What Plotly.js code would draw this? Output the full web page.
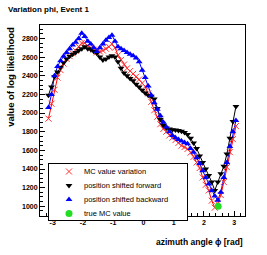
<!DOCTYPE html>
<html>
<head>
<meta charset="utf-8">
<script src="https://cdn.plot.ly/plotly-3.0.1.min.js"></script>
<style>html,body{margin:0;padding:0;background:#fff;}#chart{width:267px;height:255px;}</style>
</head>
<body>
<div id="chart"></div>
<script>
var phi = [-3.14,-3.04,-2.94,-2.84,-2.74,-2.64,-2.54,-2.44,-2.34,-2.24,-2.14,-2.04,-1.94,-1.84,-1.74,-1.64,-1.54,-1.44,-1.34,-1.24,-1.14,-1.04,-0.94,-0.84,-0.74,-0.64,-0.54,-0.44,-0.34,-0.24,-0.14,-0.04,0.06,0.16,0.26,0.36,0.46,0.56,0.66,0.76,0.86,0.96,1.06,1.16,1.26,1.36,1.46,1.56,1.66,1.76,1.86,1.96,2.06,2.16,2.26,2.36,2.46,2.56,2.66,2.76,2.86,2.96,3.06];

var mcVariation = [1940,2100,2250,2380,2460,2530,2580,2610,2640,2670,2710,2750,2750,2720,2700,2680,2650,2660,2670,2690,2710,2740,2700,2620,2570,2520,2480,2450,2420,2390,2360,2320,2285,2210,2120,2030,1960,1880,1830,1800,1760,1735,1710,1680,1650,1635,1615,1575,1530,1470,1410,1310,1230,1170,1060,985,1030,1120,1260,1420,1580,1720,1860];

var shiftedForward = [2190,2280,2390,2440,2490,2540,2580,2610,2630,2650,2670,2690,2710,2690,2680,2660,2640,2600,2570,2580,2600,2615,2600,2550,2480,2430,2400,2370,2345,2310,2280,2245,2215,2190,2180,2150,2050,1930,1870,1840,1830,1822,1818,1812,1805,1790,1770,1730,1680,1620,1540,1470,1400,1330,1260,1170,1260,1350,1430,1560,1730,1910,2070];

var shiftedBackward = [2060,2200,2400,2500,2560,2610,2650,2690,2730,2760,2800,2855,2820,2770,2740,2700,2660,2700,2740,2780,2810,2835,2770,2710,2690,2670,2650,2630,2615,2590,2550,2460,2380,2290,2190,2110,2040,1970,1900,1850,1800,1760,1735,1715,1700,1685,1670,1620,1580,1520,1460,1380,1310,1240,1170,1110,1065,1150,1310,1470,1640,1800,1920];

var truePhi = [2.47];
var trueValue = [1000];

var seriesNames = ["MC value variation","position shifted forward","position shifted backward","true MC value"];
var yTicks = [1000,1200,1400,1600,1800,2000,2200,2400,2600,2800];
var xTicks = [-3,-2,-1,0,1,2,3];

var F = "Liberation Sans, Arial, Helvetica, sans-serif";

var traces = [
  {x: phi, y: shiftedForward, mode: "lines", line: {color: "#000000", width: 1}, showlegend: false, hoverinfo: "skip"},
  {x: phi, y: shiftedBackward, mode: "lines", line: {color: "#0000ff", width: 1}, showlegend: false, hoverinfo: "skip"},
  {x: phi, y: mcVariation, mode: "lines", line: {color: "#ff0000", width: 1}, showlegend: false, hoverinfo: "skip"},
  {x: phi, y: mcVariation, mode: "markers", name: seriesNames[0],
   marker: {symbol: "x-thin-open", size: 6, color: "#ff3333", line: {color: "#ff3333", width: 1}}},
  {x: phi, y: shiftedForward, mode: "markers", name: seriesNames[1],
   marker: {symbol: "triangle-down", size: 6, color: "#000000"}},
  {x: phi, y: shiftedBackward, mode: "markers", name: seriesNames[2],
   marker: {symbol: "triangle-up", size: 6, color: "#0000ff"}},
  {x: truePhi, y: trueValue, mode: "markers", name: seriesNames[3],
   marker: {symbol: "circle", size: 7, color: "#22dd22"}}
];

var layout = {
  width: 267, height: 255,
  margin: {l: 40, r: 22, t: 25, b: 27, pad: 0},
  paper_bgcolor: "#ffffff", plot_bgcolor: "#ffffff",
  font: {family: F, size: 7, color: "#000"},
  title: {text: "Variation phi, Event 1", x: 8/267, xanchor: "left", xref: "container",
          y: 1 - 9/255, yanchor: "middle", yref: "container",
          font: {family: F, size: 8, weight: "bold", color: "#000"}},
  xaxis: {range: [-3.42, 3.36], tickvals: xTicks, ticktext: xTicks.map(String),
          ticks: "inside", ticklen: 5, tickwidth: 1, tickcolor: "#000",
          minor: {dtick: 0.2, ticks: "inside", ticklen: 3, tickcolor: "#000"},
          showline: true, linecolor: "#000", linewidth: 1, mirror: true,
          showgrid: false, zeroline: false,
          tickfont: {family: F, size: 7, weight: "bold", color: "#000"}},
  yaxis: {range: [896, 2944], tickvals: yTicks, ticktext: yTicks.map(String),
          ticks: "inside", ticklen: 5, tickwidth: 1, tickcolor: "#000",
          minor: {dtick: 50, ticks: "inside", ticklen: 3, tickcolor: "#000"},
          showline: true, linecolor: "#000", linewidth: 1, mirror: true,
          showgrid: false, zeroline: false,
          tickfont: {family: F, size: 7, weight: "bold", color: "#000"}},
  legend: {x: 0.039, xanchor: "left", y: 0.32, yanchor: "top",
           bgcolor: "#ffffff", bordercolor: "#000", borderwidth: 1,
           font: {family: F, size: 7.5, color: "#000"}, tracegroupgap: 0, itemwidth: 30},
  annotations: [
    {text: "value of log likelihood", textangle: -90, xref: "paper", yref: "paper",
     x: -0.147, xanchor: "center", y: 1, yanchor: "top", showarrow: false,
     font: {family: F, size: 9.5, weight: "bold", color: "#000"}},
    {text: "azimuth angle \u03d5 [rad]", xref: "paper", yref: "paper",
     x: 1, xanchor: "right", y: -0.1, yanchor: "top", showarrow: false,
     font: {family: F, size: 8.5, weight: "bold", color: "#000"}}
  ],
  showlegend: true
};

var gd = document.getElementById("chart");
Plotly.newPlot(gd, traces, layout, {displayModeBar: false, staticPlot: true}).then(function () {
  // compact the legend rows to match the reference spacing
  var leg = gd.querySelector(".legend");
  if (!leg) return;
  leg.setAttribute("transform", "translate(48,163)");
  var items = leg.querySelectorAll(".traces");
  items.forEach(function (el, i) {
    var t = el.getAttribute("transform") || "";
    var m = /translate\(\s*([-\d.e]+)[ ,]+([-\d.e]+)\s*\)/.exec(t);
    var tx = m ? m[1] : 0;
    el.setAttribute("transform", "translate(" + tx + "," + (8.5 + i * 14) + ")");
    var txt = el.querySelector(".legendtext");
    if (txt) txt.setAttribute("x", 35);
  });
  var bg = leg.querySelector(".bg");
  if (bg) { bg.setAttribute("height", 57); bg.setAttribute("width", 139); }
});
</script>
</body>
</html>
